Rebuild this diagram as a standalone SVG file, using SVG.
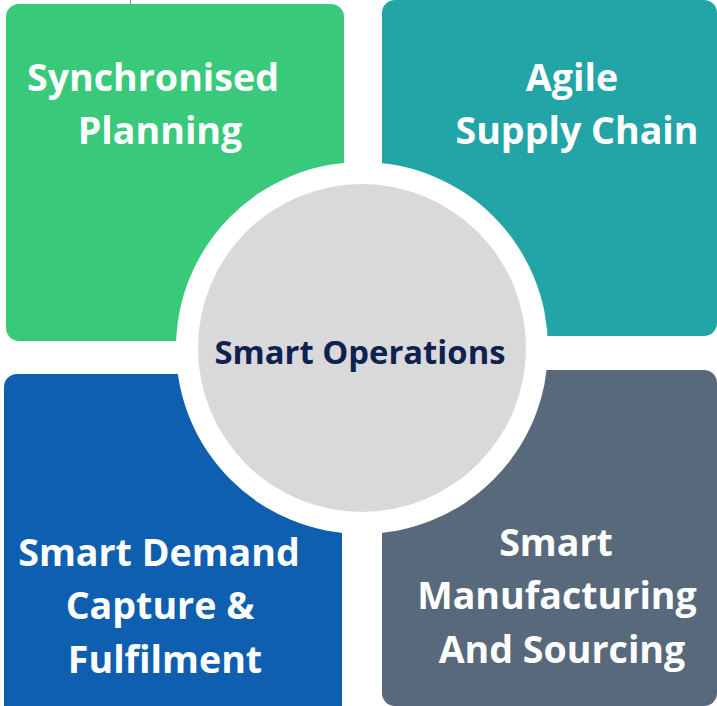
<svg xmlns="http://www.w3.org/2000/svg" width="717" height="706" viewBox="0 0 717 706">
<style>
.lbl{font-family:"Open Sans","Noto Sans","Liberation Sans",sans-serif;font-weight:700;font-size:37.6px;fill:#ffffff;text-anchor:middle}
.ctr{font-family:"Open Sans","Noto Sans","Liberation Sans",sans-serif;font-weight:700;font-size:32.8px;fill:#0f2150;text-anchor:middle}
</style>
<rect width="717" height="706" fill="#ffffff"/>
<g id="marks" stroke="#888" stroke-width="1">
<line x1="130.5" y1="0" x2="130.5" y2="5"/>
<line x1="597.5" y1="0" x2="597.5" y2="4"/>
</g>
<g id="connectors"></g>
<g id="node-planning">
<rect x="6" y="4" width="338" height="337" rx="13" fill="#38c97a"/>
<text class="lbl" x="153" y="91">Synchronised</text>
<text class="lbl" x="160" y="144">Planning</text>
</g>
<g id="node-agile">
<rect x="382" y="0" width="335" height="336" rx="13" fill="#23a5a8"/>
<text class="lbl" x="572" y="91">Agile</text>
<text class="lbl" x="577" y="144">Supply Chain</text>
</g>
<g id="node-demand">
<rect x="4" y="374" width="338" height="345" rx="13" fill="#0f5fb0"/>
<text class="lbl" x="159" y="566">Smart Demand</text>
<text class="lbl" x="160" y="619">Capture &amp;</text>
<text class="lbl" x="165" y="673">Fulfilment</text>
</g>
<g id="node-manufacturing">
<rect x="382" y="370" width="335" height="336" rx="13" fill="#58697b"/>
<text class="lbl" x="556" y="556">Smart</text>
<text class="lbl" x="557" y="609">Manufacturing</text>
<text class="lbl" x="562" y="663">And Sourcing</text>
</g>
<g id="node-center">
<circle cx="362" cy="348" r="186" fill="#ffffff"/>
<circle cx="362" cy="348" r="164" fill="#d9d9d9"/>
<text class="ctr" x="360" y="364">Smart Operations</text>
</g>
</svg>
